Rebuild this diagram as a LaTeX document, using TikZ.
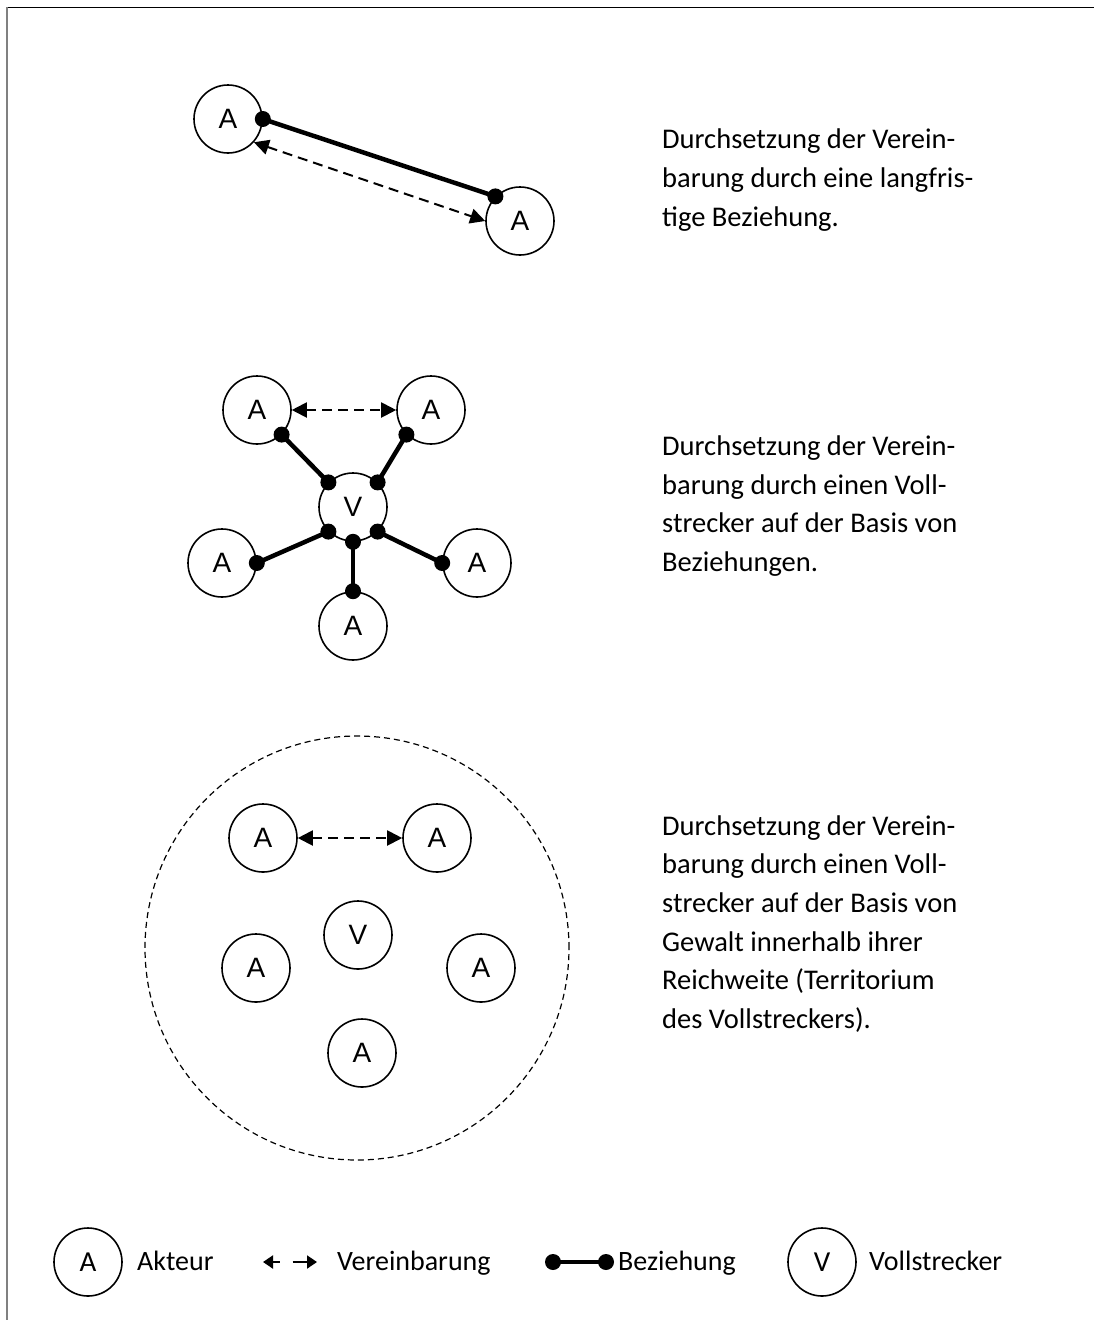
\documentclass[tikz,border=0pt]{standalone}
\usepackage{fontspec}
\setmainfont{Carlito}
\newfontfamily\labelfont{Liberation Sans}
\usetikzlibrary{arrows.meta}

\tikzset{
  actor/.style={circle, draw, line width=1.6pt, minimum size=68pt, inner sep=0pt,
    font=\labelfont\fontsize{28}{28}\selectfont},
  legendactor/.style={circle, draw, line width=1.6pt, minimum size=68pt, inner sep=0pt,
    font=\fontsize{29}{29}\selectfont},
  rel/.style={line width=4.5pt},
  reldot/.style={fill=black},
  agree/.style={line width=2pt, dash pattern=on 10pt off 6pt,
    {Triangle[length=15pt,width=15pt]}-{Triangle[length=15pt,width=15pt]}},
  reach/.style={line width=1.2pt, dash pattern=on 6pt off 4pt},
  desc/.style={anchor=west, align=left, inner sep=0pt,
    font=\fontsize{28.5}{38.7}\selectfont},
  legendtext/.style={anchor=base west, inner sep=0pt, font=\fontsize{28}{28}\selectfont},
}

\begin{document}
\begin{tikzpicture}[x=1pt, y=-1pt]
  \useasboundingbox (0,0) rectangle (1094,1320);
  \fill[white] (0,0) rectangle (1094,1320);

  % frame: top and left edges
  \draw[line width=1pt] (7,7) -- (1094,7);
  \draw[line width=1.5pt, gray] (7,7) -- (7,1320);

  % --- long-term relation between two actors
  \node[actor] (p1) at (228,119) {A};
  \node[actor] (p2) at (520,221) {A};
  \draw[rel] (p1.0) -- (p2.135);
  \fill[reldot] (p1.0) circle[radius=8pt];
  \fill[reldot] (p2.135) circle[radius=8pt];
  \draw[agree] (p1.-42) -- (p2.180);

  \node[desc] (t1) at (662,180) {Durchsetzung der Verein-\\barung durch eine langfris-\\tige Beziehung.};

  % --- enforcer linked to actors by relations
  \node[actor] (mv) at (353,507) {V};
  \node[actor] (mtl) at (257,410) {A};
  \node[actor] (mtr) at (431,410) {A};
  \node[actor] (ml) at (222,563) {A};
  \node[actor] (mr) at (477,563) {A};
  \node[actor] (mb) at (353,626) {A};
  \draw[agree] (mtl.0) -- (mtr.180);
  \foreach \a/\va/\b/\vb in {mtl/-45/mv/135, mtr/225/mv/45, ml/0/mv/225, mb/90/mv/270, mr/180/mv/-45}{
    \draw[rel] (\a.\va) -- (\b.\vb);
    \fill[reldot] (\a.\va) circle[radius=8pt];
    \fill[reldot] (\b.\vb) circle[radius=8pt];
  }

  \node[desc] (t2) at (662,506) {Durchsetzung der Verein-\\barung durch einen Voll-\\strecker auf der Basis von\\Beziehungen.};

  % --- enforcer by force within its territory
  \node[circle, draw, reach, minimum size=424pt, inner sep=0pt] (terr) at (357,948) {};
  \node[actor] (gv) at (358,935) {V};
  \node[actor] (gtl) at (263,838) {A};
  \node[actor] (gtr) at (437,838) {A};
  \node[actor] (gl) at (256,968) {A};
  \node[actor] (gr) at (481,968) {A};
  \node[actor] (gb) at (362,1053) {A};
  \draw[agree] (gtl.0) -- (gtr.180);

  \node[desc] (t3) at (662,924) {Durchsetzung der Verein-\\barung durch einen Voll-\\strecker auf der Basis von\\Gewalt innerhalb ihrer\\Reichweite (Territorium\\des Vollstreckers).};

  % --- legend
  \node[legendactor] (la) at (88,1262) {A};
  \node[legendtext] (lat) at (137,1270) {Akteur};
  \coordinate (lal) at (263,1262);
  \coordinate (lar) at (317,1262);
  \draw[line width=2pt, dash pattern=on 7pt off 13pt on 30pt,
    {Triangle[length=10pt,width=13pt]}-{Triangle[length=10pt,width=13pt]}] (lal) -- (lar);
  \node[legendtext] (lvt) at (337,1270) {Vereinbarung};
  \coordinate (lbl) at (553,1262);
  \coordinate (lbr) at (606,1262);
  \draw[line width=3.5pt] (lbl) -- (lbr);
  \fill[reldot] (lbl) circle[radius=8pt];
  \fill[reldot] (lbr) circle[radius=8pt];
  \node[legendtext] (lbt) at (618,1270) {Beziehung};
  \node[legendactor] (lv) at (822,1262) {V};
  \node[legendtext] (lvst) at (869,1270) {Vollstrecker};
\end{tikzpicture}
\end{document}
